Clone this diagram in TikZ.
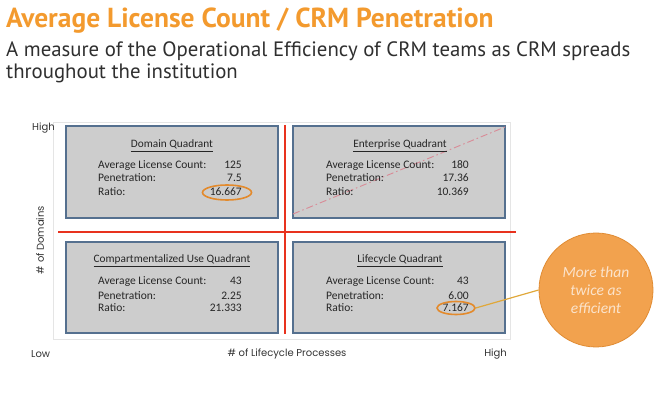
\documentclass[tikz,border=0pt]{standalone}
\usepackage{fontspec}
\setmainfont{Carlito}
\newfontfamily\titlefont{PT Sans}
\newfontfamily\axisfont{Poppins}
\newfontfamily\boxfont{Carlito}
\definecolor{ttlorange}{HTML}{F39A2E}
\definecolor{subgrey}{HTML}{2F2F2F}
\definecolor{boxfill}{HTML}{CDCDCD}
\definecolor{boxedge}{HTML}{55708F}
\definecolor{redline}{HTML}{E8321E}
\definecolor{ellorange}{HTML}{E38A2C}
\definecolor{circfill}{HTML}{F2A24E}
\definecolor{circedge}{HTML}{E08C34}
\definecolor{circtext}{HTML}{FBE3CB}
\definecolor{pinkdash}{HTML}{D98A96}
\definecolor{linkline}{HTML}{E0A83A}
\tikzset{
  quadbox/.style={draw=boxedge, line width=1.3pt, fill=boxfill},
  qtitle/.style={font=\boxfont\fontsize{11.3}{13}\selectfont, anchor=base, text=black!85},
  qlabel/.style={font=\boxfont\fontsize{11.5}{13}\selectfont, anchor=base west, text=black!85, inner sep=0pt},
  qvalue/.style={font=\boxfont\fontsize{11.5}{13}\selectfont, anchor=base east, text=black!85, inner sep=0pt},
  axislbl/.style={font=\axisfont\fontsize{10}{12}\selectfont, text=black!80, inner sep=0pt},
  hilite/.style={draw=ellorange, line width=1.6pt, ellipse},
}
\usetikzlibrary{shapes.geometric}
\begin{document}
\begin{tikzpicture}[x=1pt,y=-1pt]
\useasboundingbox (0,0) rectangle (667,398);
% titles
\node[anchor=base west, inner sep=0pt, text=ttlorange, font=\titlefont\bfseries\fontsize{27.5}{30}\selectfont] (title) at (6,28) {Average License Count / CRM Penetration};
\node[anchor=base west, inner sep=0pt, text=subgrey, font=\titlefont\fontsize{20.8}{24}\selectfont] (sub1) at (6,57) {A measure of the Operational Efficiency of CRM teams as CRM spreads};
\node[anchor=base west, inner sep=0pt, text=subgrey, font=\titlefont\fontsize{20.8}{24}\selectfont] (sub2) at (6,79) {throughout the institution};
% plot frame
\draw[black!10, line width=0.6pt] (53,122) rectangle (510,339);
% quadrant boxes
\node[quadbox, minimum width=212pt, minimum height=92pt, inner sep=0pt] (dq) at (172,172) {};
\node[quadbox, minimum width=212pt, minimum height=92pt, inner sep=0pt] (eq) at (399,172) {};
\node[quadbox, minimum width=212pt, minimum height=91pt, inner sep=0pt] (cq) at (172,287.5) {};
\node[quadbox, minimum width=212pt, minimum height=91pt, inner sep=0pt] (lq) at (399,287.5) {};
% dashed diagonal
\coordinate (dstart) at (293,214);
\coordinate (dend) at (505,127);
\draw[pinkdash, line width=0.9pt, dash pattern=on 7pt off 3pt on 1.5pt off 3pt] (dstart) -- (dend);
% red axes
\coordinate (vtop) at (285,125);
\coordinate (vbot) at (285,334);
\coordinate (hleft) at (58,232);
\coordinate (hright) at (516,232);
\draw[redline, line width=1.6pt] (vtop) -- (vbot);
\draw[redline, line width=1.6pt] (hleft) -- (hright);
% Domain quadrant
\node[qtitle] (dqt) at (172,148) {\underline{Domain Quadrant}};
\node[qlabel] (dl1) at (98,169) {Average License Count:};
\node[qlabel] (dl2) at (98,182) {Penetration:};
\node[qlabel] (dl3) at (98,196) {Ratio:};
\node[qvalue] (dv1) at (242,169) {125};
\node[qvalue] (dv2) at (242,182) {7.5};
\node[qvalue] (dv3) at (242,196) {16.667};
% Enterprise quadrant
\node[qtitle] (eqt) at (400,148) {\underline{Enterprise Quadrant}};
\node[qlabel] (el1) at (326,169) {Average License Count:};
\node[qlabel] (el2) at (326,182) {Penetration:};
\node[qlabel] (el3) at (326,196) {Ratio:};
\node[qvalue] (ev1) at (469,169) {180};
\node[qvalue] (ev2) at (469,182) {17.36};
\node[qvalue] (ev3) at (469,196) {10.369};
% Compartmentalized quadrant
\node[qtitle] (cqt) at (172,263) {\underline{Compartmentalized Use Quadrant}};
\node[qlabel] (cl1) at (98,285) {Average License Count:};
\node[qlabel] (cl2) at (98,299) {Penetration:};
\node[qlabel] (cl3) at (98,312) {Ratio:};
\node[qvalue] (cv1) at (242,285) {43};
\node[qvalue] (cv2) at (242,299) {2.25};
\node[qvalue] (cv3) at (242,312) {21.333};
% Lifecycle quadrant
\node[qtitle] (lqt) at (400,263) {\underline{Lifecycle Quadrant}};
\node[qlabel] (ll1) at (326,285) {Average License Count:};
\node[qlabel] (ll2) at (326,299) {Penetration:};
\node[qlabel] (ll3) at (326,312) {Ratio:};
\node[qvalue] (lv1) at (469,285) {43};
\node[qvalue] (lv2) at (469,299) {6.00};
\node[qvalue] (lv3) at (469,312) {7.167};
% highlight ellipses
\node[hilite, minimum width=49pt, minimum height=15pt, inner sep=0pt] (e1) at (227,192.5) {};
\node[hilite, minimum width=38pt, minimum height=13pt, inner sep=0pt] (e2) at (456,308) {};
% callout circle
\node[circle, fill=circfill, draw=circedge, line width=0.8pt, minimum size=114pt, inner sep=0pt, align=center, text=circtext, font=\boxfont\itshape\fontsize{15.5}{18}\selectfont] (call) at (596,290) {More than\\twice as\\efficient};
\draw[linkline, line width=1.2pt] (e2.east) -- (call.west);
% axis labels
\node[axislbl, anchor=base west] (yhigh) at (32,131) {High};
\node[axislbl, anchor=base west] (xlow) at (31,357) {Low};
\node[axislbl, anchor=base] (xlabel) at (287,356) {\# of Lifecycle Processes};
\node[axislbl, anchor=base east] (xhigh) at (507,356) {High};
\node[axislbl, rotate=90] (ylabel) at (40,240) {\# of Domains};
\end{tikzpicture}
\end{document}
